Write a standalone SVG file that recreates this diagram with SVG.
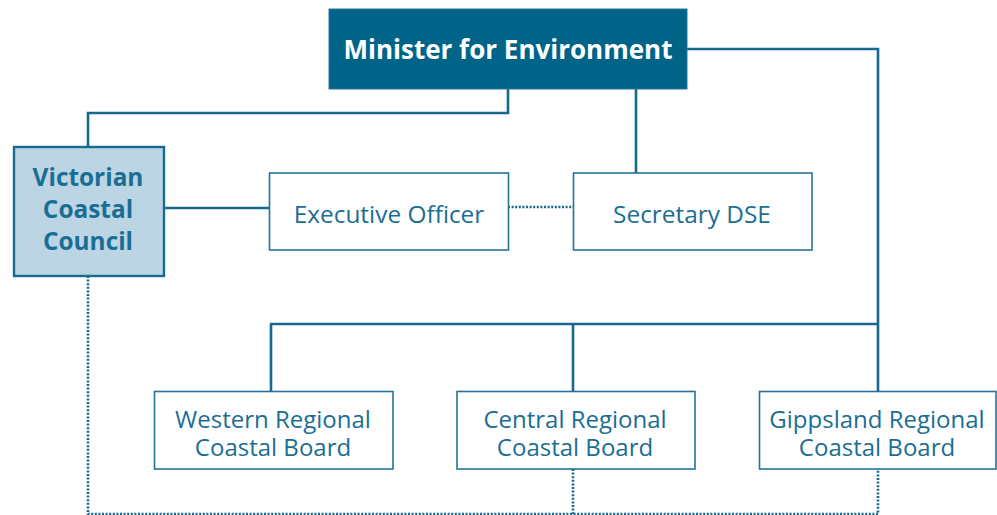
<svg xmlns="http://www.w3.org/2000/svg" width="997" height="515" viewBox="0 0 997 515">
<style>
.box{fill:#fff;stroke:#22729a;stroke-width:1.6}
.t{font-family:"Open Sans","Liberation Sans",sans-serif;font-size:24.4px;fill:#1b6e93;text-anchor:middle}
.s{font-size:24px}
.b{font-weight:bold}
.c{fill:none;stroke:#16688f;stroke-width:2.6}
.d{fill:none;stroke:#16688f;stroke-width:2.6;stroke-dasharray:2 1.6}
</style>
<rect width="997" height="515" fill="#fff"/>
<g id="connectors">
<path class="c" d="M508 89V113H88V146"/>
<path class="c" d="M636 89V173"/>
<path class="c" d="M687 49H878V391"/>
<path class="c" d="M271 391V324H878"/>
<path class="c" d="M573 324V391"/>
<path class="c" d="M165 208H269"/>
<path class="d" d="M508 207H573"/>
<path class="d" d="M88 276V514H878V469"/>
<path class="d" d="M573 469V514"/>
</g>
<g id="minister">
<rect x="329" y="9" width="358" height="80" fill="#006489" stroke="#2a7899" stroke-width="1"/>
<text class="t b" x="508" y="59" style="fill:#fff;font-size:26px">Minister for Environment</text>
</g>
<g id="vcc">
<rect x="14" y="147" width="150" height="129" fill="#bcd5e5" stroke="#1a6a8f" stroke-width="2.4"/>
<text class="t b" x="88" y="186">Victorian</text>
<text class="t b" x="88" y="218">Coastal</text>
<text class="t b" x="88" y="250">Council</text>
</g>
<g id="exec">
<rect class="box" x="269.5" y="173" width="239" height="77"/>
<text class="t" x="389" y="223">Executive Officer</text>
</g>
<g id="secretary">
<rect class="box" x="573.5" y="173" width="238.5" height="77"/>
<text class="t" x="692" y="223">Secretary DSE</text>
</g>
<g id="western">
<rect class="box" x="154.5" y="391.5" width="238.5" height="77.5"/>
<text class="t s" x="273" y="428">Western Regional</text>
<text class="t s" x="273" y="456">Coastal Board</text>
</g>
<g id="central">
<rect class="box" x="457" y="391.5" width="238" height="77.5"/>
<text class="t s" x="575" y="428">Central Regional</text>
<text class="t s" x="575" y="456">Coastal Board</text>
</g>
<g id="gippsland">
<rect class="box" x="759.5" y="391.5" width="236.5" height="77.5"/>
<text class="t s" x="877" y="428">Gippsland Regional</text>
<text class="t s" x="877" y="456">Coastal Board</text>
</g>
</svg>
